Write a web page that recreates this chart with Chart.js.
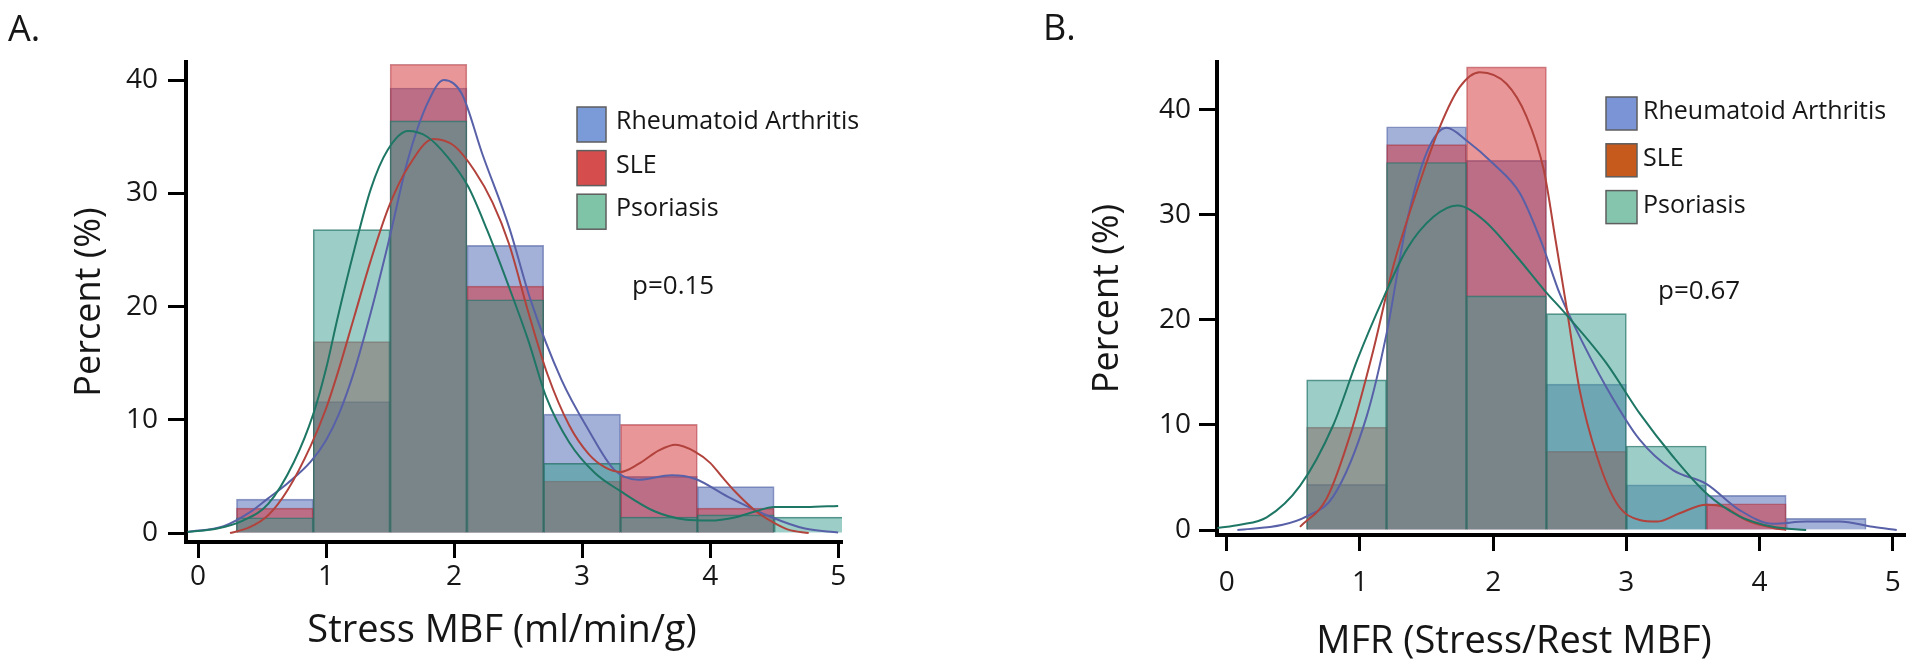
<!DOCTYPE html>
<html>
<head>
<meta charset="utf-8">
<script src="https://cdn.jsdelivr.net/npm/chart.js@4.4.1/dist/chart.umd.min.js"></script>
<style>
html,body{margin:0;padding:0;background:#fff;}
#wrap{position:relative;width:1920px;height:666px;overflow:hidden;background:#fff;}
canvas{position:absolute;top:0;}
#cA{left:0;}
#cB{left:960px;}
</style>
</head>
<body>
<div id="wrap">
<canvas id="cA" width="960" height="666"></canvas>
<canvas id="cB" width="960" height="666"></canvas>
</div>
<script>
// ---------- DATA ----------
const groups = ['Rheumatoid Arthritis', 'SLE', 'Psoriasis'];
const panelLetters = ['A.', 'B.'];
const xTitles = ['Stress MBF (ml/min/g)', 'MFR (Stress/Rest MBF)'];
const yTitle = 'Percent (%)';
const pValues = ['p=0.15', 'p=0.67'];
const xTicks = [0, 1, 2, 3, 4, 5];
const yTicks = [0, 10, 20, 30, 40];

// Panel A histogram (bin centres, bin width 0.6)
const binsA = [0.6, 1.2, 1.8, 2.4, 3.0, 3.6, 4.2, 4.8];
const raA  = [3.0, 11.6, 39.3, 25.4, 10.5, 5.0, 4.1, 0];
const sleA = [2.2, 16.9, 41.4, 21.8, 4.6, 9.6, 2.2, 0];
const psoA = [1.35, 26.8, 36.4, 20.6, 6.15, 1.4, 1.6, 1.4];

// Panel B histogram
const binsB = [0.9, 1.5, 2.1, 2.7, 3.3, 3.9, 4.5];
const raB  = [4.35, 38.4, 35.2, 13.9, 4.3, 3.3, 1.1];
const sleB = [9.8, 36.7, 44.1, 7.5, 0, 2.5, 0];
const psoB = [14.3, 35.0, 22.3, 20.6, 8.0, 0, 0];

// Density curves [x, percent]
const kdeRaA = [[-0.08,0.1],[0.2,0.6],[0.4,1.8],[0.54,3.0],[0.7,4.4],[0.88,6.3],[1.0,8.2],[1.1,10.5],[1.22,14.3],[1.35,19.5],[1.49,25.8],[1.64,33.0],[1.79,37.9],[1.92,40.0],[2.06,38.8],[2.22,33.5],[2.43,27.0],[2.6,20.5],[2.84,13.5],[3.05,9.1],[3.25,5.6],[3.44,4.7],[3.7,5.1],[3.88,4.8],[4.14,3.2],[4.48,1.4],[4.74,0.4],[5.0,0.05]];
const kdeSleA = [[0.25,0],[0.4,0.5],[0.55,1.6],[0.7,3.8],[0.88,7.7],[1.0,11.0],[1.09,14.1],[1.22,19.1],[1.35,24.1],[1.49,28.8],[1.64,32.3],[1.84,34.8],[2.0,34.2],[2.16,32.0],[2.3,29.2],[2.43,25.5],[2.58,19.5],[2.73,14.0],[2.9,9.5],[3.05,7.0],[3.18,5.8],[3.3,5.4],[3.44,6.1],[3.6,7.3],[3.73,7.8],[3.88,7.2],[4.0,6.2],[4.09,5.0],[4.2,3.6],[4.35,2.0],[4.5,0.9],[4.61,0.3],[4.77,0]];
const kdePsoA = [[-0.08,0.1],[0.15,0.4],[0.35,1.1],[0.55,2.6],[0.75,6.3],[0.9,10.5],[1.0,14.5],[1.09,19.0],[1.22,25.0],[1.35,30.4],[1.48,33.8],[1.64,35.5],[1.79,35.0],[1.95,33.2],[2.11,30.6],[2.26,26.7],[2.42,22.0],[2.58,17.0],[2.72,12.0],[2.9,8.0],[3.1,5.3],[3.3,3.7],[3.57,1.9],[3.8,1.2],[4.0,1.1],[4.2,1.4],[4.35,1.9],[4.5,2.3],[4.75,2.3],[5.0,2.4]];

const kdeRaB = [[0.08,0],[0.42,0.5],[0.6,1.3],[0.8,3.2],[1.05,10.8],[1.2,18.7],[1.35,29.2],[1.5,35.9],[1.65,38.3],[1.8,37.1],[2.0,34.9],[2.2,32.1],[2.36,27.5],[2.5,22.5],[2.6,19.7],[2.85,13.6],[3.1,8.6],[3.35,5.7],[3.6,4.4],[3.85,1.9],[4.1,0.6],[4.35,0.8],[4.6,0.8],[4.85,0.3],[5.03,0]];
const kdeSleB = [[0.55,0.3],[0.75,3.0],[0.93,9.2],[1.1,17.1],[1.25,25.1],[1.43,32.4],[1.6,38.4],[1.75,42.2],[1.9,43.6],[2.1,42.5],[2.25,39.4],[2.38,34.3],[2.47,27.5],[2.55,21.3],[2.65,13.3],[2.78,7.0],[2.93,2.5],[3.1,0.95],[3.23,0.8],[3.4,1.6],[3.6,2.4],[3.73,2.2],[3.9,0.95],[4.1,0.2],[4.2,0]];
const kdePsoB = [[-0.07,0.2],[0.1,0.5],[0.3,1.2],[0.55,4.2],[0.8,10.0],[0.98,16.2],[1.18,22.2],[1.35,26.7],[1.55,29.8],[1.73,30.9],[1.93,29.5],[2.18,26.0],[2.38,22.9],[2.55,20.5],[2.85,15.9],[3.1,11.1],[3.35,7.0],[3.6,3.5],[3.85,1.3],[4.1,0.3],[4.35,0]];

// ---------- STYLE ----------
const FONT = "'Open Sans', sans-serif";
const TEXT = '#161616';
const barFill   = ['rgba(72,98,178,0.5)', 'rgba(212,46,52,0.5)', 'rgba(58,158,144,0.5)'];
const barEdge   = ['rgba(60,78,150,0.55)', 'rgba(160,45,55,0.55)', 'rgba(38,110,100,0.75)'];
const lineColor = ['#5861a8', '#b2423c', '#1e7665'];
const legendA = ['#7b9ad8', '#d64d4d', '#80c4a7'];
const legendB = ['#7b94d6', '#c55a1c', '#85c5ae'];

const toBars = (c, v) => c.map((x, i) => ({x: x, y: v[i]}));
const toPts = a => a.map(p => ({x: p[0], y: p[1]}));

const panelText = {
  id: 'panelText',
  afterDraw(chart, args, o) {
    const ctx = chart.ctx;
    ctx.save();
    ctx.textAlign = 'left';
    ctx.textBaseline = 'alphabetic';
    ctx.fillStyle = TEXT;
    ctx.font = '36px ' + FONT;
    ctx.fillText(o.letter, o.letterX, o.letterY);
    o.legColors.forEach((c, i) => {
      const y = o.legY + i * o.legPitch;
      ctx.fillStyle = c;
      ctx.fillRect(o.legX, y, o.legW, o.legH);
      ctx.strokeStyle = '#5e5e5e';
      ctx.lineWidth = 1.5;
      ctx.strokeRect(o.legX, y, o.legW, o.legH);
      ctx.fillStyle = TEXT;
      ctx.font = '25px ' + FONT;
      ctx.fillText(groups[i], o.legTextX, o.legTextY + i * o.legPitch);
    });
    ctx.font = '26px ' + FONT;
    ctx.fillText(o.pText, o.pX, o.pY);
    ctx.font = '38px ' + FONT;
    ctx.textAlign = 'center';
    ctx.fillText(o.xTitle, o.xTitleX, o.xTitleY);
    ctx.restore();
  }
};

function makePanel(id, bins, ra, sle, pso, kdes, g, txt) {
  const bar = (vals, i, order) => ({
    type: 'bar', label: groups[i], data: toBars(bins, vals),
    backgroundColor: barFill[i], borderColor: barEdge[i], borderWidth: 1,
    grouped: false, barPercentage: 1, categoryPercentage: 1, order: order, clip: 0
  });
  const line = (pts, i) => ({
    type: 'line', label: groups[i] + ' density', data: toPts(pts),
    borderColor: lineColor[i], borderWidth: 2, pointRadius: 0, fill: false,
    cubicInterpolationMode: 'monotone', order: 0
  });
  return new Chart(document.getElementById(id), {
    type: 'bar',
    data: {
      datasets: [
        line(kdes[2], 2), line(kdes[1], 1), line(kdes[0], 0),
        bar(pso, 2, 1), bar(sle, 1, 2), bar(ra, 0, 3)
      ]
    },
    options: {
      responsive: false, animation: false, devicePixelRatio: 1, events: [],
      layout: {padding: {left: 0, top: g.top, right: g.right, bottom: 0}},
      plugins: {legend: {display: false}, tooltip: {enabled: false}, panelText: txt},
      scales: {
        x: {
          type: 'linear', min: g.xMin, max: g.xMax, offset: false,
          grid: {display: true, drawOnChartArea: false, drawTicks: true, tickLength: 16, tickWidth: 3, tickColor: '#000', offset: false},
          border: {display: true, color: '#000', width: 4},
          ticks: {font: {family: FONT, size: 28}, color: TEXT, padding: g.xPad, maxRotation: 0, autoSkip: false, callback: v => String(v)},
          afterBuildTicks: s => { s.ticks = xTicks.map(v => ({value: v})); },
          afterFit: s => { s.height = g.xHeight; }
        },
        y: {
          type: 'linear', min: g.yMin, max: g.yMax,
          grid: {display: true, drawOnChartArea: false, drawTicks: true, tickLength: g.yTL, tickWidth: 3, tickColor: '#000'},
          border: {display: true, color: '#000', width: 4},
          ticks: {font: {family: FONT, size: 28}, color: TEXT, padding: g.yPad, callback: v => String(v)},
          afterBuildTicks: s => { s.ticks = yTicks.map(v => ({value: v})); },
          title: {display: true, text: yTitle, font: {family: FONT, size: 36}, color: TEXT, padding: {top: g.yTitlePad, bottom: 0}},
          afterFit: s => { s.width = g.yWidth; }
        }
      }
    },
    plugins: [panelText]
  });
}

function draw() {
  makePanel('cA', binsA, raA, sleA, psoA, [kdeRaA, kdeSleA, kdePsoA],
    {top: 62, right: 118, xHeight: 124, yWidth: 186, xMin: -0.094, xMax: 5.03, yMin: -0.79, yMax: 41.6,
     xPad: 2, yTL: 18, yPad: 10, yTitlePad: 68},
    {letter: panelLetters[0], letterX: 8, letterY: 41,
     legColors: legendA, legX: 577, legY: 107, legW: 29, legH: 35, legPitch: 43.6, legTextX: 616, legTextY: 129,
     pText: pValues[0], pX: 632, pY: 294,
     xTitle: xTitles[0], xTitleX: 502, xTitleY: 642});
  makePanel('cB', binsB, raB, sleB, psoB, [kdeRaB, kdeSleB, kdePsoB],
    {top: 62, right: 15, xHeight: 131, yWidth: 257, xMin: -0.073, xMax: 5.092, yMin: -0.476, yMax: 44.57,
     xPad: 15, yTL: 18, yPad: 8, yTitlePad: 126},
    {letter: panelLetters[1], letterX: 83, letterY: 40,
     legColors: legendB, legX: 646, legY: 97, legW: 31, legH: 33, legPitch: 46.8, legTextX: 683, legTextY: 119,
     pText: pValues[1], pX: 698, pY: 299,
     xTitle: xTitles[1], xTitleX: 554, xTitleY: 653});
}

const fontLoads = [25, 26, 28, 36, 38].map(s => document.fonts.load(s + "px 'Open Sans'"));
Promise.all(fontLoads).then(draw, draw);
</script>
</body>
</html>
